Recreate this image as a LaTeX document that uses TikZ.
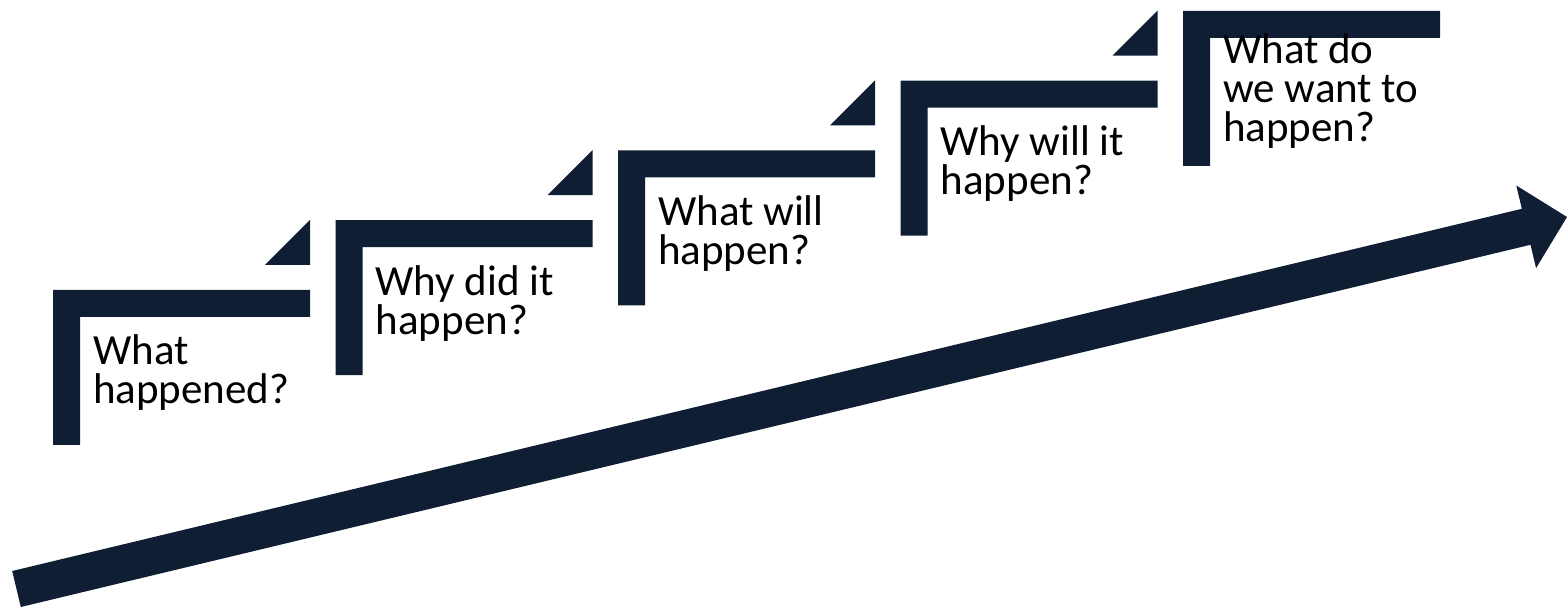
\documentclass[tikz,border=0pt]{standalone}
\usepackage{fontspec}
\setmainfont{Carlito}
\usetikzlibrary{calc}
\definecolor{navy}{HTML}{0F1E33}

\begin{document}
\begin{tikzpicture}[
    x=1pt, y=1pt,
    bar/.style={fill=navy},
    lbl/.style={anchor=base west, align=left, inner sep=0pt, font=\fontsize{43}{39}\selectfont}
]
    \useasboundingbox (0,0) rectangle (1567,610);
    % stair steps with their questions
    \foreach \i/\dy/\txt in {0/114/{What\\happened?}, 1/114/{Why did it\\happen?},
        2/114/{What will\\happen?}, 3/114/{Why will it\\happen?},
        4/131/{What do\\we want to\\happen?}} {
        \coordinate (s\i) at (53+282.5*\i, 320+69.8*\i);
        \fill[bar] (s\i) -- ++(257,0) -- ++(0,-27) -- ++(-230,0) -- ++(0,-128) -- ++(-27,0) -- cycle;
        \node[lbl] (q\i) at ($(s\i)+(40,-\dy)$) {\txt};
    }
    % small corner wedges
    \foreach \i in {0,...,3} {
        \fill[bar] ($(s\i)+(257,70)$) -- ++(0,-45) -- ++(-45,0) -- cycle;
    }
    % rising arrow
    \coordinate (tail) at (16.5,21);
    \coordinate (tip) at (1567,393);
    \coordinate (hb) at ($(tip)!42pt!(tail)$);
    \fill[bar] ($(tail)!18.5pt!-90:(tip)$) -- ($(hb)!18.5pt!-90:(tip)$)
        -- ($(hb)!42.5pt!-90:(tip)$) -- (tip) -- ($(hb)!42.5pt!90:(tip)$)
        -- ($(hb)!18.5pt!90:(tip)$) -- ($(tail)!18.5pt!90:(tip)$) -- cycle;
\end{tikzpicture}
\end{document}
